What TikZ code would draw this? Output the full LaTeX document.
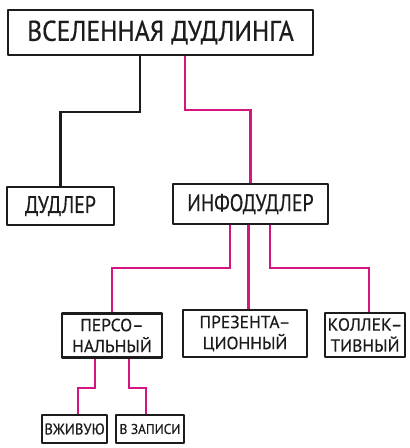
\documentclass[tikz,border=0pt]{standalone}
\usepackage{fontspec}
\setmainfont{PT Sans}
\newfontfamily\fA[FakeStretch=0.9,FakeBold=0.5]{PT Sans}
\newfontfamily\fB[FakeStretch=0.83,FakeBold=0.5]{PT Sans}
\newfontfamily\fC[FakeStretch=1.0,FakeBold=0.5]{PT Sans}
\newfontfamily\fD[FakeStretch=0.95,FakeBold=0.5]{PT Sans}
\definecolor{mag}{RGB}{214,20,128}
\definecolor{ink}{RGB}{28,28,28}
\begin{document}
\begin{tikzpicture}[x=1pt,y=-1pt,
  box/.style={draw=ink,line width=2.6pt,line join=round,rectangle,inner sep=0pt,align=center,text=ink},
  conn/.style={line width=2.4pt,draw=ink},
  pink/.style={conn,draw=mag}]
\useasboundingbox (0,0) rectangle (410,448);
\node[box,minimum width=305pt,minimum height=45pt,font=\fA\fontsize{28.5}{30}\selectfont] (top) at (160.5,32.5) {ВСЕЛЕННАЯ ДУДЛИНГА};
\node[box,minimum width=107pt,minimum height=38pt,font=\fB\fontsize{24}{25}\selectfont] (dud) at (60.5,206) {ДУДЛЕР};
\node[box,minimum width=155pt,minimum height=40pt,font=\fB\fontsize{24}{25}\selectfont] (info) at (250.5,204) {ИНФОДУДЛЕР};
\node[box,minimum width=100pt,minimum height=44pt,font=\fC\fontsize{17.5}{21}\selectfont] (pers) at (112,335.5) {ПЕРСО–\\НАЛЬНЫЙ};
\node[box,minimum width=124pt,minimum height=47pt,font=\fC\fontsize{17.5}{21}\selectfont] (pres) at (245,333.5) {ПРЕЗЕНТА–\\ЦИОННЫЙ};
\node[box,minimum width=80pt,minimum height=44pt,font=\fC\fontsize{17.5}{21}\selectfont] (koll) at (365,335) {КОЛЛЕК–\\ТИВНЫЙ};
\node[box,minimum width=65pt,minimum height=28pt,font=\fD\fontsize{15.5}{16}\selectfont] (live) at (74.5,429) {ВЖИВУЮ};
\node[box,minimum width=68pt,minimum height=28pt,font=\fD\fontsize{14}{15}\selectfont] (rec) at (150,429) {В ЗАПИСИ};
% connectors
\draw[conn] (140,0 |- top.south) -- (140,112) -| (dud.north);
\draw[pink] (185,0 |- top.south) -- (185,110) -| (info.north);
\draw[pink] (230,0 |- info.south) -- (230,268) -| (pers.north);
\draw[pink] (248.5,0 |- info.south) -- (248.5,0 |- pres.north);
\draw[pink] (270,0 |- info.south) -- (270,268) -| (369,0 |- koll.north);
\draw[pink] (95,0 |- pers.south) -- (95,388) -| (78,0 |- live.north);
\draw[pink] (129,0 |- pers.south) -- (129,388) -| (146,0 |- rec.north);
\end{tikzpicture}
\end{document}
